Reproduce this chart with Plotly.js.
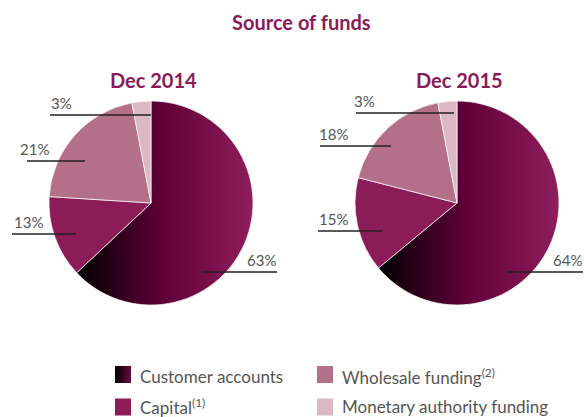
<!DOCTYPE html>
<html>
<head>
<meta charset="utf-8">
<script src="https://cdn.plot.ly/plotly-3.0.1.min.js"></script>
<style>
html,body{margin:0;padding:0;background:#fff;}
#chart{width:584px;height:417px;}
</style>
</head>
<body>
<div id="chart"></div>
<script>
// ---- data ----
const categories = ["Customer accounts", "Capital", "Wholesale funding", "Monetary authority funding"];
const footnotes = ["", "(1)", "(2)", ""];
const periods = ["Dec 2014", "Dec 2015"];
const values2014 = [63, 13, 21, 3];
const values2015 = [64, 15, 18, 3];
const chartTitle = "Source of funds";

// ---- styles ----
const colors = ["#650037", "#8c1c58", "#b37088", "#dbb9c4"];
const titleColor = "#8b1a5a";
const textColor = "#555555";
const W = 584, H = 417;
const px = x => x / W;
const py = y => 1 - y / H;

// pie geometry (pixels): center x, center y, radius
const pieGeom = [{cx: 151, cy: 203, r: 102}, {cx: 457, cy: 203, r: 102}];

// label layout per pie (pixels): line start/end x, line y, text x, text anchor side
const labelLayout = [
  [ {x0: 202, x1: 277, y: 272, tx: 278, side: "right"},
    {x0: 12,  x1: 76,  y: 234, tx: 12,  side: "left"},
    {x0: 27,  x1: 85,  y: 161, tx: 18,  side: "left"},
    {x0: 50,  x1: 151, y: 115, tx: 49,  side: "left"} ],
  [ {x0: 508, x1: 583, y: 272, tx: 584, side: "right"},
    {x0: 318, x1: 382, y: 231, tx: 317, side: "left"},
    {x0: 320, x1: 391, y: 146, tx: 317, side: "left"},
    {x0: 356, x1: 454, y: 113, tx: 352, side: "left"} ]
];

const allValues = [values2014, values2015];

const traces = allValues.map((vals, k) => {
  const g = pieGeom[k];
  return {
    type: "pie",
    name: periods[k],
    labels: categories,
    values: vals,
    sort: false,
    direction: "clockwise",
    rotation: 0,
    textinfo: "none",
    hoverinfo: "label+percent",
    showlegend: false,
    marker: {colors: colors, line: {color: "#ffffff", width: 0.7}},
    domain: {x: [px(g.cx - g.r), px(g.cx + g.r)], y: [py(g.cy + g.r), py(g.cy - g.r)]}
  };
});

const annotations = [];
const shapes = [];

// main title
annotations.push({
  text: "<b>" + chartTitle + "</b>", xref: "paper", yref: "paper",
  x: px(301.5), y: py(22), xanchor: "center", yanchor: "middle", showarrow: false,
  font: {family: "Lato, sans-serif", size: 20, color: titleColor}
});

// pie titles
periods.forEach((p, k) => {
  annotations.push({
    text: "<b>" + p + "</b>", xref: "paper", yref: "paper",
    x: px(pieGeom[k].cx + 2), y: py(80), xanchor: "center", yanchor: "middle", showarrow: false,
    font: {family: "Lato, sans-serif", size: 20, color: titleColor}
  });
});

// percentage labels with leader lines
allValues.forEach((vals, k) => {
  vals.forEach((v, i) => {
    const L = labelLayout[k][i];
    shapes.push({type: "line", xref: "paper", yref: "paper",
      x0: px(L.x0), x1: px(L.x1), y0: py(L.y), y1: py(L.y),
      line: {color: "#222222", width: 1.3}});
    annotations.push({
      text: v + "%", xref: "paper", yref: "paper",
      x: px(L.tx), y: py(L.y - 1),
      xanchor: L.side, yanchor: "bottom", showarrow: false,
      font: {family: "Lato, sans-serif", size: 15, color: textColor}
    });
  });
});

// legend (2 columns, column-major)
const legendCols = [115, 317];
const legendRows = [374.5, 407];
const legendTextY = [376.5, 406];
categories.forEach((c, i) => {
  const colIdx = (i < 2) ? 0 : 1;
  const rowIdx = i % 2;
  const sx = legendCols[colIdx], sy = legendRows[rowIdx];
  shapes.push({type: "rect", xref: "paper", yref: "paper",
    x0: px(sx), x1: px(sx + 16), y0: py(sy + 8.5), y1: py(sy - 8.5),
    fillcolor: colors[i], line: {width: 0}, name: "swatch" + i});
  annotations.push({
    text: c + (footnotes[i] ? "<sup>" + footnotes[i] + "</sup>" : ""),
    xref: "paper", yref: "paper",
    x: px(sx + 23), y: py(legendTextY[rowIdx]), xanchor: "left", yanchor: "middle", showarrow: false,
    font: {family: "Lato, sans-serif", size: 17, color: textColor}
  });
});

const layout = {
  width: W, height: H,
  margin: {l: 0, r: 0, t: 0, b: 0},
  paper_bgcolor: "#ffffff",
  plot_bgcolor: "#ffffff",
  showlegend: false,
  annotations: annotations,
  shapes: shapes
};

function addGradients(gd) {
  const svg = gd.querySelector("svg.main-svg");
  let defs = svg.querySelector("defs");
  if (!defs) { defs = document.createElementNS("http://www.w3.org/2000/svg", "defs"); svg.insertBefore(defs, svg.firstChild); }
  const mk = (id, stops) => {
    if (svg.querySelector("#" + id)) return;
    const lg = document.createElementNS("http://www.w3.org/2000/svg", "linearGradient");
    lg.setAttribute("id", id);
    lg.setAttribute("x1", "0"); lg.setAttribute("y1", "0");
    lg.setAttribute("x2", "1"); lg.setAttribute("y2", "0");
    stops.forEach(s => {
      const st = document.createElementNS("http://www.w3.org/2000/svg", "stop");
      st.setAttribute("offset", s[0]);
      st.setAttribute("stop-color", s[1]);
      lg.appendChild(st);
    });
    defs.appendChild(lg);
  };
  mk("gradCust", [["0", "#000000"], ["0.5", "#63003a"], ["1", "#8e1e5c"]]);
  mk("gradSwatch", [["0", "#000000"], ["1", "#6a0a40"]]);
  gd.querySelectorAll(".pielayer .trace").forEach(tr => {
    const p = tr.querySelector(".slice path.surface");
    if (p) p.style.fill = "url(#gradCust)";
  });
  const swIdx = String(shapes.findIndex(s => s.name === "swatch0"));
  gd.querySelectorAll(".shapelayer path").forEach(p => {
    if (p.getAttribute("data-index") === swIdx) {
      p.style.fill = "url(#gradSwatch)";
      p.style.fillOpacity = 1;
    }
  });
}

Plotly.newPlot("chart", traces, layout, {displayModeBar: false}).then(gd => {
  addGradients(gd);
  gd.on("plotly_afterplot", () => addGradients(gd));
});
</script>
</body>
</html>
